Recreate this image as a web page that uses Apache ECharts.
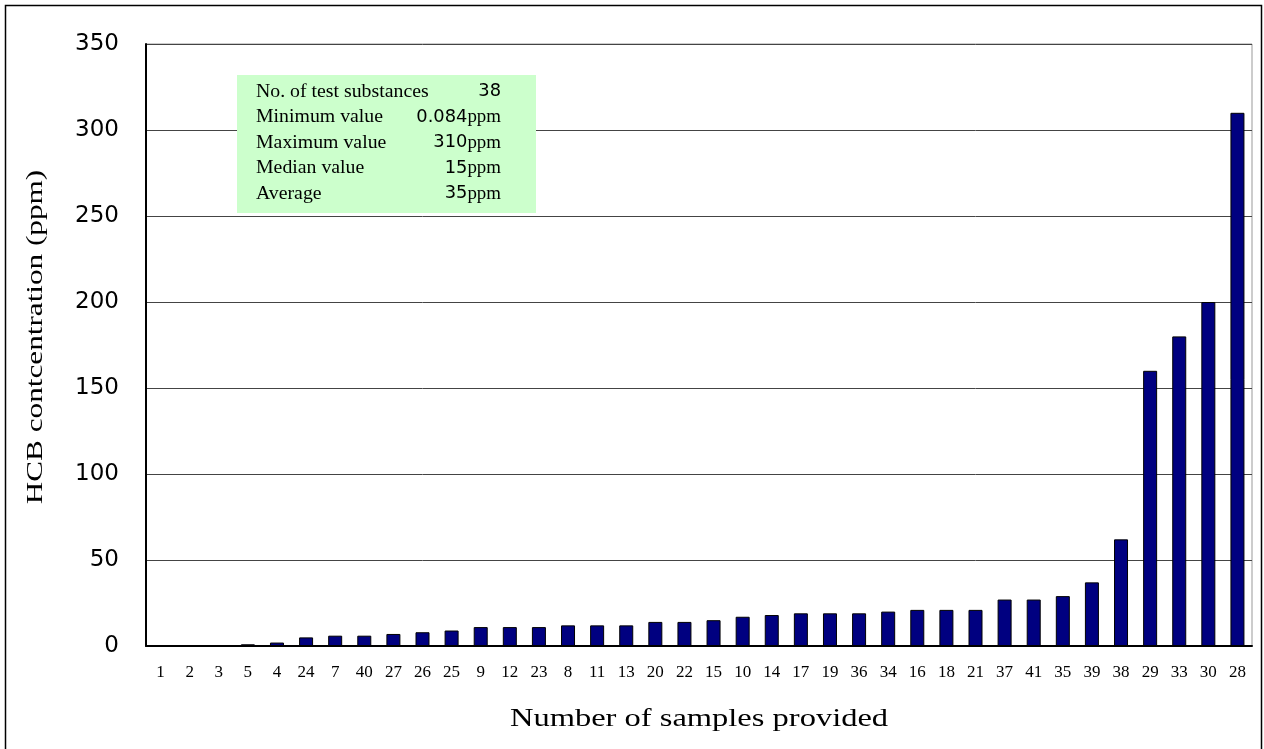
<!DOCTYPE html>
<html>
<head>
<meta charset="utf-8">
<title>HCB concentration</title>
<script src="https://cdn.jsdelivr.net/npm/echarts@6/dist/echarts.min.js"></script>
<style>
  html, body { margin: 0; padding: 0; background: #fff; }
  #chart { width: 1264px; height: 749px; }
</style>
</head>
<body>
<div id="chart"></div>
<script>
// sample IDs, sorted by concentration
const samples = ["1", "2", "3", "5", "4", "24", "7", "40", "27", "26", "25", "9", "12", "23", "8",
  "11", "13", "20", "22", "15", "10", "14", "17", "19", "36", "34", "16", "18", "21", "37",
  "41", "35", "39", "38", "29", "33", "30", "28"];

// HCB concentration (ppm)
const hcbPpm = [0.084, 0.1, 0.3, 1, 2, 5, 6, 6, 7, 8, 9, 11, 11, 11, 12,
  12, 12, 14, 14, 15, 17, 18, 19, 19, 19, 20, 21, 21, 21, 27,
  27, 29, 37, 62, 160, 180, 200, 310];

// summary box
const statLabels = ["No. of test substances", "Minimum value", "Maximum value", "Median value", "Average"];
const statValues = ["38", "0.084", "310", "15", "35"];
const statUnits = ["", "ppm", "ppm", "ppm", "ppm"];

const yTicks = [0, 50, 100, 150, 200, 250, 300, 350];

const SERIF = "'Liberation Serif', 'Times New Roman', serif";
const SANS = "'DejaVu Sans', sans-serif";

(function () {
  const chart = echarts.init(document.getElementById("chart"), null, { renderer: "canvas" });

  // info box; the original text is drawn a bit wide, hence scaleX
  const boxX = 237, boxY = 75, boxW = 299, boxH = 138;
  const statText = [];
  statLabels.forEach((lab, i) => {
    const y = boxY + 17 + i * 25.5;
    statText.push({
      type: "text", x: 256, y: y, scaleX: 1.1, z: 11,
      style: { text: lab, font: "18px " + SERIF, fill: "#000", verticalAlign: "middle" }
    });
    statText.push({
      type: "text", z: 11,
      x: 501, y: y, scaleX: 1.05,
      style: {
        text: "{n|" + statValues[i] + "}{u|" + statUnits[i] + "}",
        align: "right", verticalAlign: "middle",
        rich: {
          n: { font: "17px " + SANS, fill: "#000" },
          u: { font: "18px " + SERIF, fill: "#000" }
        }
      }
    });
  });

  const option = {
    animation: false,
    backgroundColor: "#fff",
    grid: { left: 146, right: 12, top: 44, bottom: 103, show: true, borderColor: "#999", borderWidth: 1 },

    xAxis: {
      type: "category",
      data: samples,
      axisLine: { lineStyle: { color: "#000", width: 2 } },
      axisTick: { inside: true, length: 5, lineStyle: { color: "#000" } },
      axisLabel: { interval: 0, margin: 18, fontFamily: SERIF, fontSize: 17, color: "#000" }
    },

    yAxis: {
      type: "value",
      min: yTicks[0],
      max: yTicks[yTicks.length - 1],
      interval: 50,
      axisLine: { show: true, lineStyle: { color: "#000", width: 2 } },
      axisTick: { show: false },
      axisLabel: { margin: 27, fontFamily: SANS, fontSize: 23, color: "#000" },
      splitLine: { lineStyle: { color: "#444", width: 1 } }
    },

    graphic: [
      // outer frame
      {
        type: "rect", z: 0, silent: true,
        shape: { x: 5.5, y: 5.5, width: 1256, height: 800 },
        style: { fill: "none", stroke: "#000", lineWidth: 1.5 }
      },
      // y-axis title
      {
        type: "text", x: 36, y: 337, rotation: Math.PI / 2, scaleX: 1.3, z: 5,
        style: {
          text: "HCB contcentration (ppm)", font: "24px " + SERIF, fill: "#000",
          align: "center", verticalAlign: "middle"
        }
      },
      // x-axis title
      {
        type: "text", x: 699, y: 719, scaleX: 1.25, z: 5,
        style: {
          text: "Number of samples provided", font: "26px " + SERIF, fill: "#000",
          align: "center", verticalAlign: "middle"
        }
      },
      // summary box background
      {
        type: "rect", z: 10,
        shape: { x: boxX, y: boxY, width: boxW, height: boxH },
        style: { fill: "#ccffcc" }
      }
    ].concat(statText),

    series: [
      {
        type: "bar",
        data: hcbPpm,
        barWidth: 14,
        itemStyle: { color: "#000080", borderColor: "#000", borderWidth: 1 }
      }
    ]
  };

  chart.setOption(option);
})();
</script>
</body>
</html>
